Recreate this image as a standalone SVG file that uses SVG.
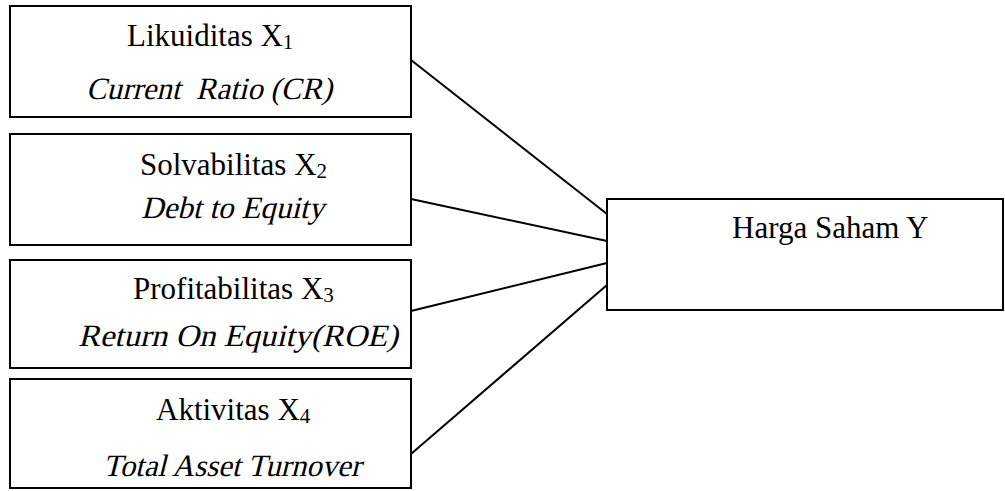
<svg xmlns="http://www.w3.org/2000/svg" width="1005" height="491" viewBox="0 0 1005 491">
<style>
.box{fill:#fff;stroke:#000;stroke-width:2}
.t{font-family:"Liberation Serif","Times New Roman",serif;font-size:31px;fill:#000}
.sub{font-size:21px}
.conn line{stroke:#000;stroke-width:2}
</style>
<rect width="1005" height="491" fill="#fff"/>
<g class="conn">
<line x1="411" y1="60" x2="607" y2="214"/>
<line x1="411" y1="199" x2="607" y2="241"/>
<line x1="411" y1="311" x2="607" y2="263"/>
<line x1="411" y1="454" x2="607" y2="285"/>
</g>
<g id="x1">
<rect class="box" x="10" y="6" width="401" height="111"/>
<text class="t" x="127" y="46">Likuiditas X<tspan class="sub" dy="3">1</tspan></text>
<text class="t" transform="translate(86,99) skewX(-14)" textLength="246" lengthAdjust="spacingAndGlyphs" xml:space="preserve">Current  Ratio (CR)</text>
</g>
<g id="x2">
<rect class="box" x="10" y="134" width="401" height="111"/>
<text class="t" x="140" y="175">Solvabilitas X<tspan class="sub" dy="3">2</tspan></text>
<text class="t" transform="translate(141,218) skewX(-14)" textLength="183" lengthAdjust="spacingAndGlyphs">Debt to Equity</text>
</g>
<g id="x3">
<rect class="box" x="10" y="260" width="401" height="108"/>
<text class="t" x="133" y="299">Profitabilitas X<tspan class="sub" dy="3">3</tspan></text>
<text class="t" transform="translate(78,346) skewX(-14)" textLength="320" lengthAdjust="spacingAndGlyphs">Return On Equity(ROE)</text>
</g>
<g id="x4">
<rect class="box" x="10" y="379" width="401" height="109"/>
<text class="t" x="156" y="420">Aktivitas X<tspan class="sub" dy="3">4</tspan></text>
<text class="t" transform="translate(103,476) skewX(-14)" textLength="258" lengthAdjust="spacingAndGlyphs">Total Asset Turnover</text>
</g>
<g id="y">
<rect class="box" x="607" y="199" width="396" height="111"/>
<text class="t" x="732" y="238">Harga Saham Y</text>
</g>
</svg>
